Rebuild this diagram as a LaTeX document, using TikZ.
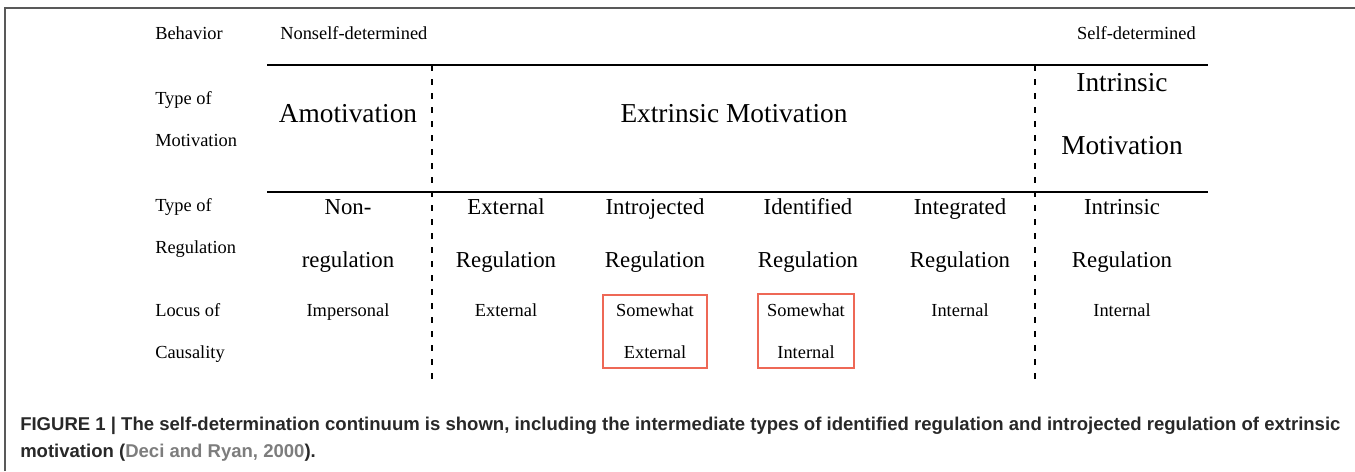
\documentclass[tikz,border=0pt]{standalone}
\usepackage{fontspec}
\setmainfont{Liberation Serif}
\newfontfamily\capfont{Liberation Sans}
\usetikzlibrary{shadows}
\definecolor{boxred}{RGB}{238,104,86}
\definecolor{citegray}{RGB}{125,125,125}
\definecolor{captext}{RGB}{40,40,40}
\tikzset{
	lbl/.style={inner sep=0pt, text height=9.4pt, text depth=0pt, font=\fontsize{13.8}{16}\selectfont},
	cell/.style={inner sep=0pt, text height=11.6pt, text depth=0pt, font=\fontsize{17.1}{20}\selectfont},
	head/.style={inner sep=0pt, text height=13.9pt, text depth=0pt, font=\fontsize{20.5}{24}\selectfont},
	rule/.style={line width=1.1pt},
	divider/.style={line width=1.5pt, dash pattern=on 4.5pt off 6pt},
	locusbox/.style={draw=boxred, line width=1.5pt, align=center, inner sep=0pt,
		font=\fontsize{13.8}{31.5}\selectfont,
		drop shadow={opacity=0.25, shadow xshift=0.6pt, shadow yshift=-0.6pt}, fill=white},
	caption/.style={inner sep=0pt, anchor=west, text=captext, font=\capfont\bfseries\fontsize{13.9}{16}\selectfont}
}

\begin{document}
\begin{tikzpicture}[x=0.75pt, y=-0.75pt]
			%%%%% START %%%%%
			\useasboundingbox (0, 0) rectangle (1355, 471);
			
			\draw[line width=1.2pt, color=black!65] (5, 471) -- (5, 8) -- (1355, 8);
			
			\node[lbl, anchor=west] (behav) at (155, 33) {Behavior};
			\node[lbl, anchor=west] (nonself) at (280, 33) {Nonself-determined};
			\node[lbl, anchor=east] (self) at (1196, 33) {Self-determined};
			
			\node[lbl, anchor=west] (motA) at (155, 98) {Type of};
			\node[lbl, anchor=west] (motB) at (155, 140) {Motivation};
			\node[lbl, anchor=west] (regA) at (155, 205) {Type of};
			\node[lbl, anchor=west] (regB) at (155, 247) {Regulation};
			\node[lbl, anchor=west] (locA) at (155, 310) {Locus of};
			\node[lbl, anchor=west] (locB) at (155, 352) {Causality};
			
			\draw[rule] (267, 65) -- (1208, 65);
			\draw[rule] (267, 192) -- (1208, 192);
			
			\draw[divider] (432, 65) -- (432, 383);
			\draw[divider] (1035, 65) -- (1035, 383);
			
			\node[head] (amot) at (348, 113) {Amotivation};
			\node[head] (extr) at (734, 113) {Extrinsic Motivation};
			\node[head] (intrA) at (1122, 82) {Intrinsic};
			\node[head] (intrB) at (1122, 145) {Motivation};
			
			\foreach \x/\top/\bot/\nm in {348/Non-/regulation/nonreg, 506/External/Regulation/extreg,
					655/Introjected/Regulation/introreg, 808/Identified/Regulation/identreg,
					960/Integrated/Regulation/integreg, 1122/Intrinsic/Regulation/intrreg}{
				\node[cell] (\nm A) at (\x, 207) {\top};
				\node[cell] (\nm B) at (\x, 260) {\bot};
			}
			
			\node[lbl] (imper) at (348, 310) {Impersonal};
			\node[lbl] (extloc) at (506, 310) {External};
			\node[locusbox, minimum width=78pt, minimum height=55pt] (swext) at (655, 331.5) {Somewhat\\External};
			\node[locusbox, minimum width=72pt, minimum height=55.5pt] (swint) at (806, 331) {Somewhat\\Internal};
			\node[lbl] (intloc) at (960, 310) {Internal};
			\node[lbl] (intrloc) at (1122, 310) {Internal};
			
			\node[caption] (capA) at (20, 426) {FIGURE 1 | The self-determination continuum is shown, including the intermediate types of identified regulation and introjected regulation of extrinsic};
			\node[caption] (capB) at (20, 453) {motivation ({\color{citegray}Deci and Ryan, 2000}).};
			
			%%%%% END %%%%%
\end{tikzpicture}
\end{document}
